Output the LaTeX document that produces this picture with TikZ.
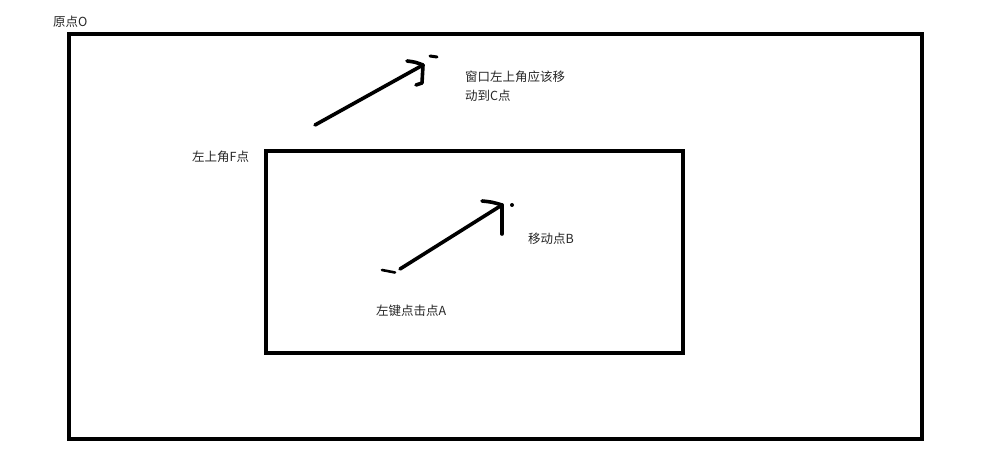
\documentclass[tikz,border=0pt]{standalone}
\usepackage{fontspec}
\newfontfamily\cjk{Noto Sans CJK SC}
\begin{document}
\begin{tikzpicture}[x=1pt,y=-1pt,
  frame/.style={draw=black,line width=3.6pt,outer sep=0pt,inner sep=0pt},
  pen/.style={draw=black,line width=3.6pt,line cap=round,line join=round},
  lbl/.style={font=\cjk\fontsize{12.5}{19}\selectfont,text=black!85,inner sep=0pt,anchor=west,align=left}]
\useasboundingbox (0,0) rectangle (983,465);
% rectangles
\node[frame,minimum width=853pt,minimum height=405pt,anchor=north west] (outer) at (69,34) {};
\node[frame,minimum width=417pt,minimum height=202pt,anchor=north west] (inner) at (266,151) {};
% labels
\node[lbl] (O) at (53,22) {原点O};
\node[lbl] (F) at (192,157) {左上角F点};
\node[lbl,text width=110pt] (C) at (465,86.5) {窗口左上角应该移\\动到C点};
\node[lbl] (B) at (528,239) {移动点B};
\node[lbl] (A) at (376,311) {左键点击点A};
% arrow 1 : F -> C
\coordinate (s1) at (315,125);
\coordinate (t1) at (423,65);
\coordinate (h1a) at (407,61);
\coordinate (h1b) at (422,83);
\coordinate (h1c) at (416,85);
\draw[pen] (s1) -- (t1);
\draw[pen] (h1a) .. controls (415,62) .. (t1);
\draw[pen] (t1) -- (h1b);
\draw[pen] (h1b) -- (h1c);
\draw[pen,line width=3pt] (430,56) -- (437,57);
% arrow 2 : A -> B
\coordinate (s2) at (400,269);
\coordinate (t2) at (502,205);
\coordinate (h2a) at (482,201);
\coordinate (h2b) at (502,234);
\draw[pen] (s2) -- (t2);
\draw[pen] (h2a) .. controls (492,202) .. (t2);
\draw[pen] (t2) -- (h2b);
\fill (512,205) circle (2pt);
\draw[pen,line width=2.6pt] (382,270) -- (395,272.5);
\end{tikzpicture}
\end{document}
